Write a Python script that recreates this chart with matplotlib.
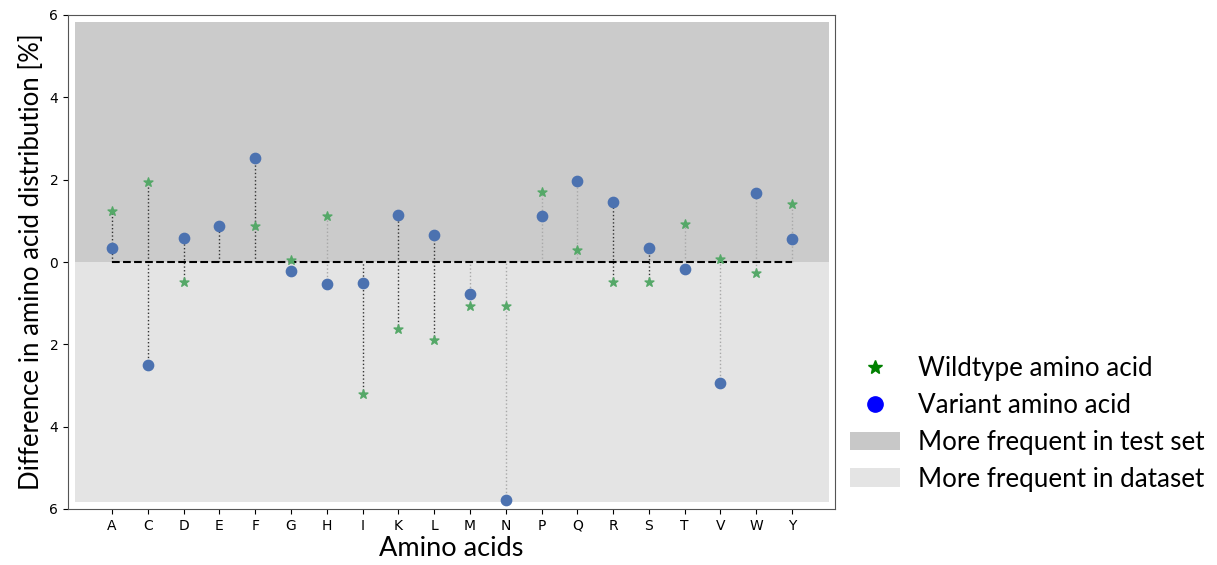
import numpy as np
import matplotlib
matplotlib.use("Agg")
import matplotlib.pyplot as plt
from matplotlib.lines import Line2D
from matplotlib.patches import Patch

amino_acids = ["A", "C", "D", "E", "F", "G", "H", "I", "K", "L",
               "M", "N", "P", "Q", "R", "S", "T", "V", "W", "Y"]
wildtype = [1.24, 1.95, -0.49, np.nan, 0.87, 0.05, 1.12, -3.20, -1.63, -1.90,
            -1.08, -1.08, 1.69, 0.29, -0.49, -0.48, 0.92, 0.08, -0.27, 1.40]
variant = [0.35, -2.49, 0.59, 0.87, 2.53, -0.22, -0.53, -0.50, 1.14, 0.65,
           -0.78, -5.78, 1.12, 1.97, 1.45, 0.35, -0.16, -2.95, 1.67, 0.57]
dark_line = [True, True, True, True, True, False, False, True, True, True,
             False, False, False, False, True, True, False, False, False, False]
yticks = [-6, -4, -2, 0, 2, 4, 6]

label_font = "Lato"

fig = plt.figure(figsize=(12.17, 5.65), dpi=100)
ax = fig.add_axes([68/1217, 1-509/565, (835-68)/1217, (509-15)/565])

x = np.arange(len(amino_acids))
ax.fill_between([-1.03, 20.03], 0, 5.82, color="#cbcbcb", lw=0, zorder=0)
ax.fill_between([-1.03, 20.03], -5.82, 0, color="#e4e4e4", lw=0, zorder=0)

for i in range(len(amino_acids)):
    vals = [0.0, variant[i]]
    if not np.isnan(wildtype[i]):
        vals.append(wildtype[i])
    col = "#333333" if dark_line[i] else "#a8a8a8"
    ax.vlines(x[i], min(vals), max(vals), colors=col, linestyles=":", lw=1.0, zorder=1)

ax.plot([x[0], x[-1]], [0, 0], ls="--", color="black", lw=1.5, zorder=2)
ax.scatter(x, wildtype, marker="*", s=45, color="#55a868", zorder=3)
ax.scatter(x, variant, marker="o", s=55, color="#4c72b0", zorder=3)

ax.set_xlim(-1.23, 20.2)
ax.set_ylim(-6, 6)
ax.set_xticks(x)
ax.set_xticklabels(amino_acids, fontsize=10)
ax.set_yticks(yticks)
ax.set_yticklabels([str(abs(v)) for v in yticks], fontsize=10)
for s in ax.spines.values():
    s.set_color("#555555")

ax.set_xlabel("Amino acids", fontsize=19.5, family=label_font, labelpad=2)
ax.set_ylabel("Difference in amino acid distribution [%]", fontsize=18.5,
              family=label_font, labelpad=4)

handles = [
    Line2D([], [], marker="*", color="green", ls="none", markersize=10),
    Line2D([], [], marker="o", color="blue", ls="none", markersize=11),
    Patch(facecolor="#c8c8c8", edgecolor="none"),
    Patch(facecolor="#e4e4e4", edgecolor="none"),
]
labels = ["Wildtype amino acid", "Variant amino acid",
          "More frequent in test set", "More frequent in dataset"]
fig.legend(handles, labels, loc="center left", bbox_to_anchor=(827/1217, 1-424/565),
           frameon=False, prop={"family": label_font, "size": 18.7},
           handlelength=1.9, handletextpad=0.7, labelspacing=0.45)

fig.savefig("out.png", dpi=100)
